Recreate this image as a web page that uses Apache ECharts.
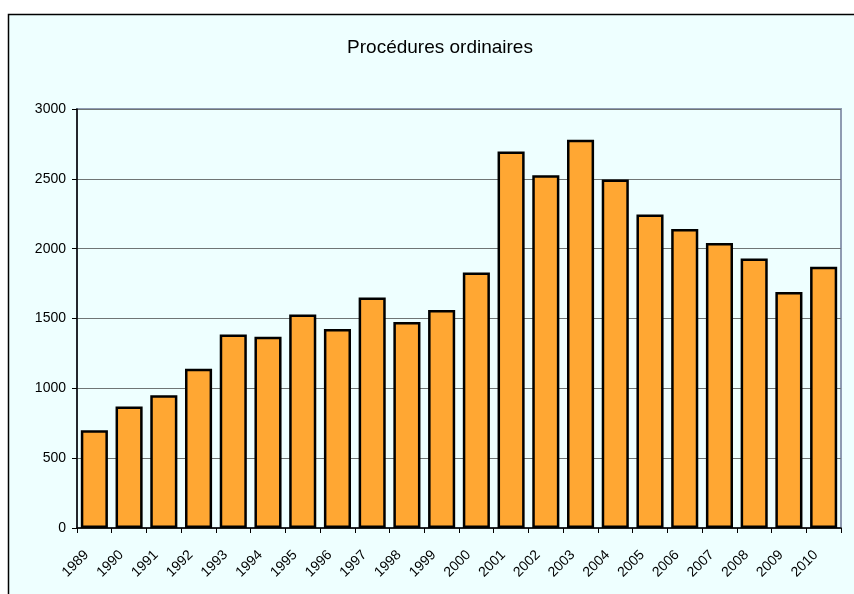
<!DOCTYPE html>
<html>
<head>
<meta charset="utf-8">
<script src="https://cdn.jsdelivr.net/npm/echarts@6/dist/echarts.min.js"></script>
<style>
html,body{margin:0;padding:0;background:#ffffff;}
#c{width:854px;height:594px;}
</style>
</head>
<body>
<div id="c"></div>
<script>
const title = "Procédures ordinaires";
const years = ["1989","1990","1991","1992","1993","1994","1995","1996","1997","1998","1999","2000","2001","2002","2003","2004","2005","2006","2007","2008","2009","2010"];
const values = [700, 870, 950, 1140, 1385, 1370, 1528, 1425, 1650, 1475, 1560, 1830, 2695, 2525, 2780, 2495, 2245, 2140, 2040, 1930, 1690, 1870];
const yTicks = [0, 500, 1000, 1500, 2000, 2500, 3000];

const chart = echarts.init(document.getElementById('c'), null, {renderer: 'canvas'});
const FONT = '"Liberation Sans", Arial, sans-serif';
chart.setOption({
  animation: false,
  backgroundColor: '#ffffff',
  textStyle: {fontFamily: FONT},
  graphic: [{
    type: 'rect', z: -100, silent: true,
    shape: {x: 8.5, y: 14.5, width: 860, height: 600},
    style: {fill: '#EEFFFF', stroke: '#000000', lineWidth: 1.5}
  }],
  title: {
    text: title, left: 435, top: 33, textAlign: 'center',
    textStyle: {fontFamily: FONT, fontSize: 19, fontWeight: 'normal', color: '#000'}
  },
  grid: {
    left: 77, right: 13, top: 109, bottom: 66,
    show: true, backgroundColor: 'transparent', borderColor: '#8E9BB2', borderWidth: 2
  },
  xAxis: {
    type: 'category', data: years,
    axisLine: {lineStyle: {color: '#000', width: 1.5}},
    axisTick: {show: true, length: 5, lineStyle: {color: '#000'}, alignWithLabel: false},
    axisLabel: {rotate: 45, fontSize: 14, color: '#000', margin: 17, interval: 0, fontFamily: FONT, padding: [0, 11, 0, 0]}
  },
  yAxis: {
    type: 'value', min: yTicks[0], max: yTicks[yTicks.length - 1], interval: 500,
    axisLine: {show: true, lineStyle: {color: '#000', width: 1.5}},
    axisTick: {show: true, length: 5, lineStyle: {color: '#000'}},
    axisLabel: {fontSize: 14, color: '#000', margin: 11, fontFamily: FONT, formatter: function (v) { return String(v); }},
    splitLine: {show: true, lineStyle: {color: '#6F7575', width: 1.2}}
  },
  series: [{
    type: 'bar', data: values, barCategoryGap: '22%',
    itemStyle: {color: '#FFA733', borderColor: '#000', borderWidth: 2.5}
  }]
});
</script>
</body>
</html>
